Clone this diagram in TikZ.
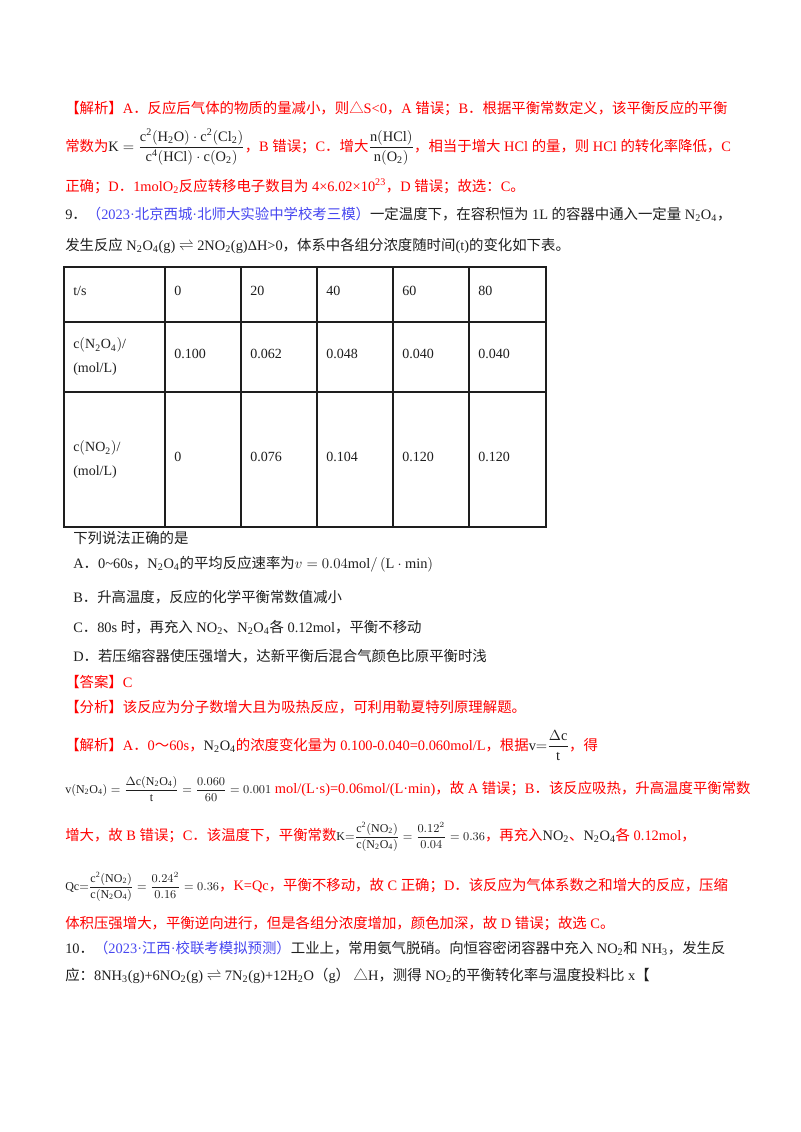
\documentclass[tikz,border=0pt]{standalone}
\usepackage{amsmath}
\usepackage{fontspec}
\setmainfont{Liberation Serif}
\newfontfamily\cjk{Noto Sans CJK SC}
\XeTeXinterchartokenstate=1
\newXeTeXintercharclass\CJKcls
\count255="3000
\loop \XeTeXcharclass\count255=\CJKcls \ifnum\count255<"9FFF \advance\count255 1 \repeat
\count255="FF00
\loop \XeTeXcharclass\count255=\CJKcls \ifnum\count255<"FFEF \advance\count255 1 \repeat
\XeTeXcharclass"25B3=\CJKcls
\XeTeXinterchartoks 0 \CJKcls = {\cjk}
\XeTeXinterchartoks 4095 \CJKcls = {\cjk}
\XeTeXinterchartoks \CJKcls 0 = {\rmfamily}
\XeTeXinterchartoks \CJKcls 4095 = {\rmfamily}
\definecolor{rd}{RGB}{255,0,0}
\definecolor{bl}{RGB}{70,70,240}
\definecolor{tx}{RGB}{30,30,30}
\newcommand\lo[1]{\textsubscript{#1}}
\newcommand\hi[1]{\textsuperscript{#1}}
\begin{document}
\begin{tikzpicture}[x=0.75pt,y=-0.75pt,
  ln/.style={anchor=base west,inner sep=0pt,font=\fontsize{10.8pt}{12pt}\selectfont,text=tx},
  red/.style={ln,text=rd},
  cell/.style={anchor=west,inner sep=0pt,font=\fontsize{10.5pt}{18pt}\selectfont,text=tx,align=left}]
\useasboundingbox[fill=white] (0,0) rectangle (800,1132);
\node[red] (l1) at (65,113) {【解析】A．反应后气体的物质的量减小，则△S<0，A 错误；B．根据平衡常数定义，该平衡反应的平衡};
\node[red] (l2) at (65,151) {常数为{\color{tx}$\mathrm{K}=\dfrac{\mathrm{c^2(H_2O)\cdot c^2(Cl_2)}}{\mathrm{c^4(HCl)\cdot c(O_2)}}$}，B 错误；C．增大{\color{tx}$\dfrac{\mathrm{n(HCl)}}{\mathrm{n(O_2)}}$}，相当于增大 HCl 的量，则 HCl 的转化率降低，C};
\node[red] (l3) at (65,191) {正确；D．1molO\lo{2}反应转移电子数目为 4×6.02×10\hi{23}，D 错误；故选：C。};
\node[ln] (l4) at (65,219) {9．{\color{bl}（2023·北京西城·北师大实验中学校考三模）}一定温度下，在容积恒为 1L 的容器中通入一定量 N\lo{2}O\lo{4}，};
\node[ln] (l5) at (65,250) {发生反应 N\lo{2}O\lo{4}(g) $\rightleftharpoons$ 2NO\lo{2}(g)ΔH>0，体系中各组分浓度随时间(t)的变化如下表。};
% table
\draw[tx,line width=0.9pt] (64,267) rectangle (546,527);
\foreach \x in {165,241,317,393,469} \draw[tx,line width=0.9pt] (\x,267) -- (\x,527);
\foreach \y in {322,392} \draw[tx,line width=0.9pt] (64,\y) -- (546,\y);
\node[cell] (h0) at (73,291) {t/s};
\node[cell] (h1) at (174,291) {0};
\node[cell] (h2) at (250,291) {20};
\node[cell] (h3) at (326,291) {40};
\node[cell] (h4) at (402,291) {60};
\node[cell] (h5) at (478,291) {80};
\node[cell] (r1) at (73,357) {c$\left(\mathrm{N_2O_4}\right)$/\\(mol/L)};
\node[cell] (a1) at (174,354) {0.100};
\node[cell] (a2) at (250,354) {0.062};
\node[cell] (a3) at (326,354) {0.048};
\node[cell] (a4) at (402,354) {0.040};
\node[cell] (a5) at (478,354) {0.040};
\node[cell] (r2) at (73,460) {c$\left(\mathrm{NO_2}\right)$/\\(mol/L)};
\node[cell] (b1) at (174,457) {0};
\node[cell] (b2) at (250,457) {0.076};
\node[cell] (b3) at (326,457) {0.104};
\node[cell] (b4) at (402,457) {0.120};
\node[cell] (b5) at (478,457) {0.120};
% options
\node[ln] (q) at (73,543) {下列说法正确的是};
\node[ln] (oa) at (73,568) {A．0\textasciitilde60s，N\lo{2}O\lo{4}的平均反应速率为$v=0.04\mathrm{mol}/\left(\mathrm{L\cdot min}\right)$};
\node[ln] (ob) at (73,602) {B．升高温度，反应的化学平衡常数值减小};
\node[ln] (oc) at (73,632) {C．80s 时，再充入 NO\lo{2}、N\lo{2}O\lo{4}各 0.12mol，平衡不移动};
\node[ln] (od) at (73,661) {D．若压缩容器使压强增大，达新平衡后混合气颜色比原平衡时浅};
\node[red] (ans) at (65,687) {【答案】C};
\node[red] (fx) at (65,712) {【分析】该反应为分子数增大且为吸热反应，可利用勒夏特列原理解题。};
\node[red] (j1) at (65,750) {【解析】A．0～60s，{\color{tx}N\lo{2}O\lo{4}}的浓度变化量为 0.100-0.040=0.060mol/L，根据{\color{tx}$\mathrm{v}{=}\dfrac{\Delta \mathrm{c}}{\mathrm{t}}$}，得};
\node[red] (j2) at (65,793) {{\color{tx}\small$\mathrm{v(N_2O_4)}=\dfrac{\Delta\mathrm{c(N_2O_4)}}{\mathrm{t}}=\dfrac{0.060}{60}=0.001$} mol/(L·s)=0.06mol/(L·min)，故 A 错误；B．该反应吸热，升高温度平衡常数};
\node[red] (j3) at (65,840) {增大，故 B 错误；C．该温度下，平衡常数{\color{tx}\small$\mathrm{K}{=}\dfrac{\mathrm{c^2(NO_2)}}{\mathrm{c(N_2O_4)}}=\dfrac{0.12^2}{0.04}=0.36$}，再充入{\color{tx}NO\lo{2}}、{\color{tx}N\lo{2}O\lo{4}}各 0.12mol，};
\node[red] (j4) at (65,890) {{\color{tx}\small$\mathrm{Qc}{=}\dfrac{\mathrm{c^2(NO_2)}}{\mathrm{c(N_2O_4)}}=\dfrac{0.24^2}{0.16}=0.36$}，K=Qc，平衡不移动，故 C 正确；D．该反应为气体系数之和增大的反应，压缩};
\node[red] (j5) at (65,928) {体积压强增大，平衡逆向进行，但是各组分浓度增加，颜色加深，故 D 错误；故选 C。};
\node[ln] (p1) at (65,953) {10．{\color{bl}（2023·江西·校联考模拟预测）}工业上，常用氨气脱硝。向恒容密闭容器中充入 NO\lo{2}和 NH\lo{3}，发生反};
\node[ln] (p2) at (65,980) {应：8NH\lo{3}(g)+6NO\lo{2}(g) $\rightleftharpoons$ 7N\lo{2}(g)+12H\lo{2}O（g） △H，测得 NO\lo{2}的平衡转化率与温度投料比 x【};
\end{tikzpicture}
\end{document}
